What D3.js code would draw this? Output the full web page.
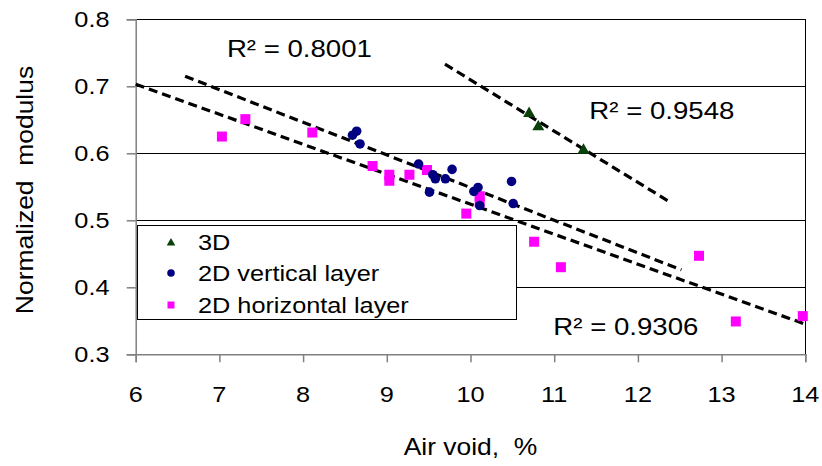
<!DOCTYPE html>
<html><head><meta charset="utf-8">
<script src="https://cdn.jsdelivr.net/npm/d3@7"></script>
<style>body{margin:0;background:#fff}text{font-family:"Liberation Sans",Arial,sans-serif;white-space:pre}</style>
</head><body>
<svg id="c" width="822" height="466"></svg>
<script>
// ---- data ----
const x3D = [10.70, 10.81, 11.35];
const y3D = [0.661, 0.641, 0.606];
const x2Dv = [8.59, 8.64, 8.68, 9.38, 9.51, 9.55, 9.58, 9.70, 9.78, 10.04, 10.09, 10.11, 10.49, 10.51];
const y2Dv = [0.627, 0.633, 0.614, 0.584, 0.542, 0.568, 0.562, 0.562, 0.576, 0.543, 0.549, 0.522, 0.558, 0.525];
const x2Dh = [7.03, 7.31, 8.11, 8.83, 9.03, 9.03, 9.27, 9.48, 9.95, 10.11, 10.11, 10.76, 11.08, 12.73, 13.17, 13.97];
const y2Dh = [0.625, 0.651, 0.631, 0.581, 0.568, 0.559, 0.568, 0.575, 0.510, 0.536, 0.527, 0.468, 0.430, 0.447, 0.349, 0.357];
const seriesNames = ["3D", "2D vertical layer", "2D horizontal layer"];
// trendlines (3D, 2D vertical, 2D horizontal)
const trendX0 = [9.695, 6.59, 6.0];
const trendX1 = [12.36, 12.52, 14.0];
const trendY0 = [0.733, 0.715, 0.703];
const trendY1 = [0.529, 0.426, 0.345];
const r2Labels = ["R² = 0.9548", "R² = 0.8001", "R² = 0.9306"];
const r2X = [11.42, 7.09, 10.99];
const r2Y = [0.651, 0.743, 0.329];
const xTicks = [6, 7, 8, 9, 10, 11, 12, 13, 14];
const yTicks = [0.3, 0.4, 0.5, 0.6, 0.7, 0.8];
const xTitle = "Air void,  %";
const yTitle = "Normalized  modulus";

// ---- drawing ----
const svg = d3.select("#c");
const L = 135.7, R = 805.3, T = 19.3, B = 354.3;
const x = d3.scaleLinear().domain([6, 14]).range([L, R]);
const y = d3.scaleLinear().domain([0.3, 0.8]).range([B, T]);
const SX = 1.15;

function txt(px, py, str, size, anchor, rot) {
  const g = svg.append("g").attr("transform", `translate(${px},${py})` + (rot ? ` rotate(${rot})` : "") + ` scale(${SX},1)`);
  return g.append("text").attr("x", 0).attr("y", 0).attr("font-size", size)
    .attr("text-anchor", anchor || "start").attr("fill", "#000").text(str);
}

// gridlines
svg.append("g").selectAll("line").data(yTicks.filter(d => d > 0.3)).join("line")
  .attr("x1", L).attr("x2", R).attr("y1", d => y(d)).attr("y2", d => y(d))
  .attr("stroke", "#000").attr("stroke-width", 1).attr("shape-rendering", "crispEdges");
// right border
svg.append("line").attr("x1", R).attr("x2", R).attr("y1", T).attr("y2", B)
  .attr("stroke", "#000").attr("stroke-width", 1).attr("shape-rendering", "crispEdges");

// axes
const xAxis = d3.axisBottom(x).tickValues(xTicks).tickSize(8).tickFormat("");
const gx = svg.append("g").attr("transform", `translate(0,${B})`).call(xAxis);
const yAxis = d3.axisLeft(y).tickValues(yTicks).tickSize(9).tickFormat("");
const gy = svg.append("g").attr("transform", `translate(${L},0)`).call(yAxis);
[gx, gy].forEach(g => {
  g.select(".domain").attr("stroke", "#808080").attr("stroke-width", 1.5);
  g.selectAll(".tick line").attr("stroke", "#808080").attr("stroke-width", 1.5);
});
xTicks.forEach(t => txt(x(t), 402, String(t), 22, "middle"));
yTicks.forEach(t => txt(109.5, y(t) + 8, t.toFixed(1), 22, "end"));

// axis titles
txt((L + R) / 2, 455, xTitle, 23, "middle");
txt(33, 190, yTitle, 23, "middle", -90);

// legend box
const lg = svg.append("g");
lg.append("rect").attr("x", 137).attr("y", 225).attr("width", 379).attr("height", 94)
  .attr("fill", "#fff").attr("stroke", "#000").attr("stroke-width", 1).attr("shape-rendering", "crispEdges");

// trendlines
svg.append("g").selectAll("line").data(trendX0).join("line")
  .attr("x1", (d, i) => x(trendX0[i])).attr("x2", (d, i) => x(trendX1[i]))
  .attr("y1", (d, i) => y(trendY0[i])).attr("y2", (d, i) => y(trendY1[i]))
  .attr("stroke", "#000").attr("stroke-width", 3.2).attr("stroke-dasharray", "9,5");

// points
const tri = d3.symbol().type(d3.symbolTriangle).size(62);
const circ = d3.symbol().type(d3.symbolCircle).size(72);
svg.append("g").selectAll("rect").data(x2Dh).join("rect")
  .attr("x", (d, i) => x(d) - 5).attr("y", (d, i) => y(y2Dh[i]) - 5).attr("width", 10).attr("height", 10)
  .attr("fill", "#ff00ff");
svg.append("g").selectAll("path").data(x2Dv).join("path")
  .attr("d", circ).attr("transform", (d, i) => `translate(${x(d)},${y(y2Dv[i])})`).attr("fill", "#000080");
svg.append("g").selectAll("path").data(x3D).join("path")
  .attr("d", tri).attr("transform", (d, i) => `translate(${x(d)},${y(y3D[i]) + 1})`).attr("fill", "#0a400a");

// legend entries
const lgY = [242, 273, 305];
lg.append("path").attr("d", d3.symbol().type(d3.symbolTriangle).size(32)).attr("transform", `translate(171,${lgY[0] + 1})`).attr("fill", "#0a400a");
lg.append("path").attr("d", d3.symbol().type(d3.symbolCircle).size(45)).attr("transform", `translate(171,${lgY[1]})`).attr("fill", "#000080");
lg.append("rect").attr("x", 167.5).attr("y", lgY[2] - 3.5).attr("width", 7).attr("height", 7).attr("fill", "#ff00ff");
seriesNames.forEach((s, i) => txt(198, lgY[i] + 8, s, 22, "start"));

// R² labels
r2Labels.forEach((s, i) => txt(x(r2X[i]), y(r2Y[i]), s, 24, "start"));
</script>
</body></html>
